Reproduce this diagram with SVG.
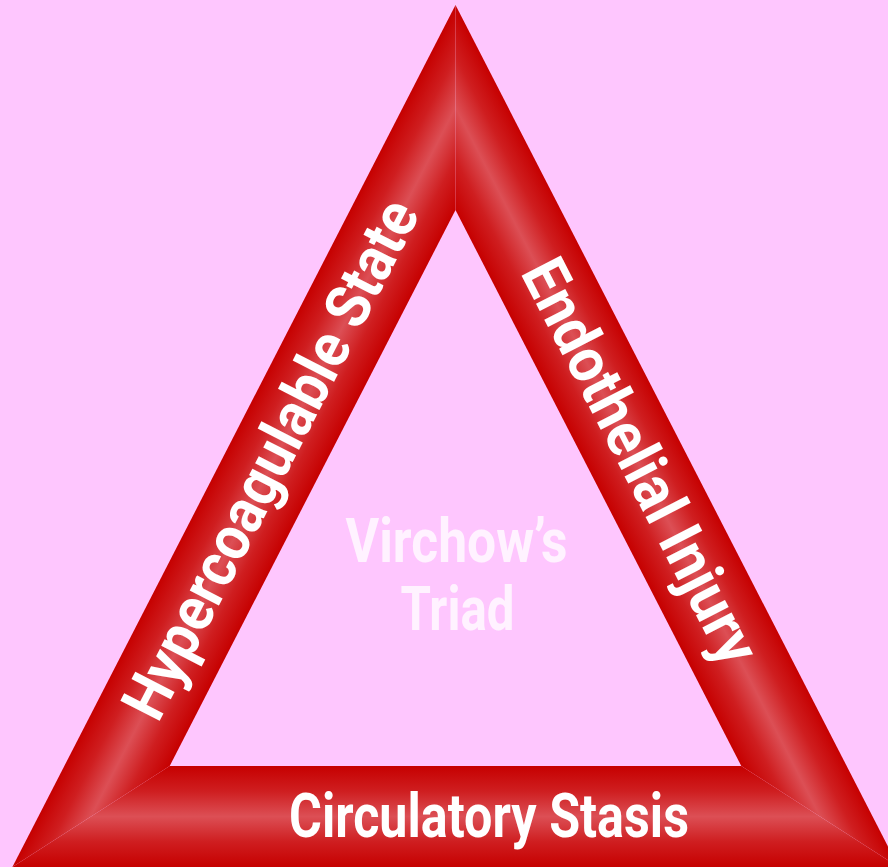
<svg xmlns="http://www.w3.org/2000/svg" width="888" height="867" viewBox="0 0 888 867">
  <defs>
    <linearGradient id="gLeft" gradientUnits="userSpaceOnUse" x1="455.5" y1="5" x2="538.9" y2="47.9">
      <stop offset="0" stop-color="#c60000"/>
      <stop offset="0.25" stop-color="#cf1e20"/>
      <stop offset="0.5" stop-color="#dc4f55"/>
      <stop offset="0.75" stop-color="#cf1e20"/>
      <stop offset="1" stop-color="#c60000"/>
    </linearGradient>
    <linearGradient id="gRight" gradientUnits="userSpaceOnUse" x1="455.5" y1="5" x2="372.1" y2="47.9">
      <stop offset="0" stop-color="#c60000"/>
      <stop offset="0.25" stop-color="#cf1e20"/>
      <stop offset="0.5" stop-color="#dc4f55"/>
      <stop offset="0.75" stop-color="#cf1e20"/>
      <stop offset="1" stop-color="#c60000"/>
    </linearGradient>
    <linearGradient id="gBottom" gradientUnits="userSpaceOnUse" x1="0" y1="867" x2="0" y2="766">
      <stop offset="0" stop-color="#c60000"/>
      <stop offset="0.25" stop-color="#cf1e20"/>
      <stop offset="0.5" stop-color="#dc4f55"/>
      <stop offset="0.75" stop-color="#cf1e20"/>
      <stop offset="1" stop-color="#c60000"/>
    </linearGradient>
  </defs>
  <style>
    .lbl { font-family: Roboto, "Liberation Sans", sans-serif; font-weight: bold; font-size: 62px; fill: #ffffff; }
    .title { font-family: Roboto, "Liberation Sans", sans-serif; font-weight: bold; font-size: 62px; fill: #fff2ff; text-anchor: middle; }
  </style>
  <rect x="0" y="0" width="888" height="867" fill="#fec6fe"/>
  <g id="triangle">
    <polygon points="455.5,5 455.5,210 169.7,766 12.4,867" fill="url(#gLeft)"/>
    <polygon points="455.5,5 898.6,867 741.3,766 455.5,210" fill="url(#gRight)"/>
    <polygon points="12.4,867 169.7,766 741.3,766 898.6,867" fill="url(#gBottom)"/>
  </g>
  <g id="hypercoagulable">
    <text class="lbl" transform="translate(158,724) rotate(-62.8)" x="0" y="0" textLength="574" lengthAdjust="spacingAndGlyphs">Hypercoagulable State</text>
  </g>
  <g id="endothelial">
    <text class="lbl" transform="translate(520,272.6) rotate(62.8)" x="0" y="0" textLength="446" lengthAdjust="spacingAndGlyphs">Endothelial Injury</text>
  </g>
  <g id="circulatory">
    <text class="lbl" x="289" y="837" textLength="400" lengthAdjust="spacingAndGlyphs">Circulatory Stasis</text>
  </g>
  <g id="title">
    <text class="title" x="456.5" y="561.7" textLength="222" lengthAdjust="spacingAndGlyphs">Virchow’s</text>
    <text class="title" x="457.5" y="630" textLength="114" lengthAdjust="spacingAndGlyphs">Triad</text>
  </g>
</svg>
